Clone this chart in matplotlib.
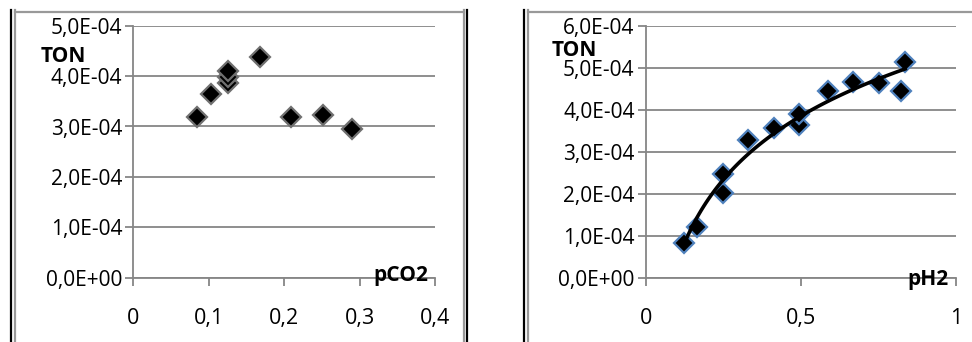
import numpy as np
import matplotlib.pyplot as plt
from matplotlib.lines import Line2D
from matplotlib.ticker import FuncFormatter

# data
pco2 = [0.084, 0.103, 0.125, 0.125, 0.125, 0.168, 0.209, 0.251, 0.290]
ton_co2 = [3.19e-4, 3.64e-4, 3.86e-4, 3.98e-4, 4.11e-4, 4.37e-4, 3.19e-4, 3.23e-4, 2.95e-4]

ph2 = [0.122, 0.165, 0.248, 0.250, 0.331, 0.414, 0.496, 0.496, 0.589, 0.670, 0.753, 0.824, 0.837]
ton_h2 = [0.82e-4, 1.21e-4, 2.02e-4, 2.47e-4, 3.29e-4, 3.56e-4, 3.63e-4, 3.89e-4,
          4.45e-4, 4.67e-4, 4.63e-4, 4.45e-4, 5.13e-4]

plt.rcParams['font.family'] = ['Open Sans', 'DejaVu Sans']
W, H = 972, 342
fig = plt.figure(figsize=(W / 100, H / 100), dpi=100)

grid_col = '#868686'


def sci(v, pos):
    return "{:.1E}".format(v).replace('.', ',')


def dec(v, pos):
    if abs(v) < 1e-9:
        return "0"
    if abs(v - round(v)) < 1e-9:
        return str(int(round(v)))
    return ("%g" % v).replace('.', ',')


def setup(ax, xmax, xstep, ymax):
    ax.set_xlim(0, xmax)
    ax.set_ylim(0, ymax)
    ax.set_xticks(np.arange(0, xmax + 1e-9, xstep))
    ax.set_yticks(np.arange(0, ymax + 1e-9, 1e-4))
    ax.yaxis.set_major_formatter(FuncFormatter(sci))
    ax.xaxis.set_major_formatter(FuncFormatter(dec))
    ax.grid(axis='y', color=grid_col, lw=1.3)
    ax.set_axisbelow(True)
    for s in ['top', 'right']:
        ax.spines[s].set_visible(False)
    for s in ['left', 'bottom']:
        ax.spines[s].set_color(grid_col)
        ax.spines[s].set_linewidth(1.3)
    ax.tick_params(axis='y', length=6, width=1.3, color=grid_col, labelsize=15, pad=2)
    ax.tick_params(axis='x', length=6, width=1.3, color=grid_col, labelsize=15.5, pad=16)


def px(x0, y0):
    return x0 / W, 1 - y0 / H


ax1 = fig.add_axes([133.3 / W, 1 - 277.7 / H, 301.7 / W, 252 / H])
setup(ax1, 0.4, 0.1, 5e-4)
ax1.plot(pco2, ton_co2, 'D', ms=10, mfc='black', mec='#707070', mew=1.6, clip_on=False)

ax2 = fig.add_axes([645.7 / W, 1 - 277.7 / H, 310 / W, 252 / H])
setup(ax2, 1, 0.5, 6e-4)
ax2.plot(ph2, ton_h2, 'D', ms=10, mfc='black', mec='#4F81BD', mew=1.6, clip_on=False)
# logarithmic trendline
a, b = np.polyfit(np.log(ph2), ton_h2, 1)
xs = np.linspace(min(ph2), max(ph2), 100)
ax2.plot(xs, a * np.log(xs) + b, color='black', lw=2.6)

# axis titles
fig.text(*px(41, 57), 'TON', fontsize=15, fontweight='bold', va='center', ha='left')
fig.text(*px(373, 276), 'pCO2', fontsize=15, fontweight='bold', va='center', ha='left')
fig.text(*px(552, 50), 'TON', fontsize=15, fontweight='bold', va='center', ha='left')
fig.text(*px(907, 279), 'pH2', fontsize=15, fontweight='bold', va='center', ha='left')

# chart borders
for x0, c in [(11, 'black'), (15, '#999999'), (464, '#999999'), (467, 'black'),
              (523.5, 'black'), (528, '#999999')]:
    fig.add_artist(Line2D([x0 / W, x0 / W], [0, 1 - 10 / H], color=c, lw=1.6))
for x0, x1 in [(15, 464), (528, 972)]:
    fig.add_artist(Line2D([x0 / W, x1 / W], [1 - 11.5 / H, 1 - 11.5 / H], color='#999999', lw=1.6))

fig.savefig('out.png', dpi=100)
